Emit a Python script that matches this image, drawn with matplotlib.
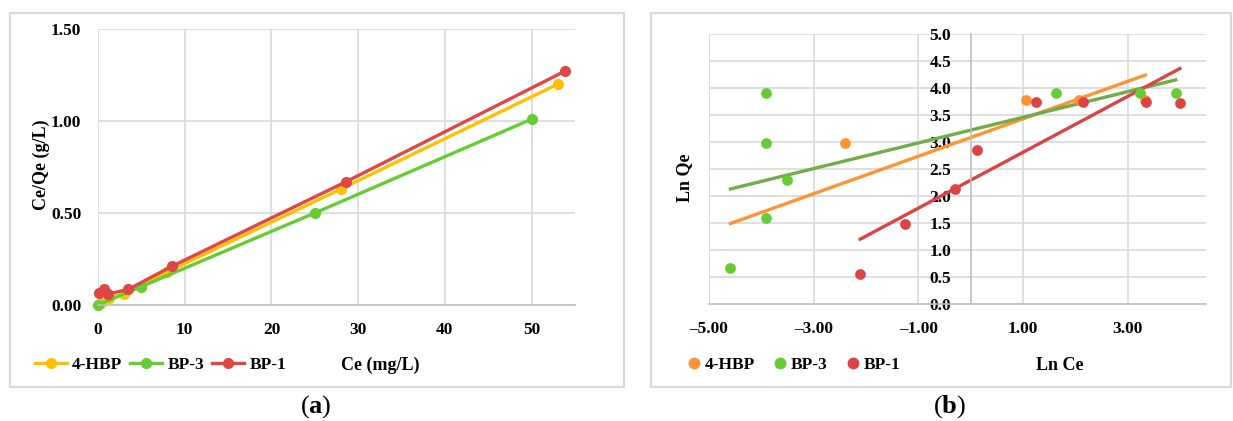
import matplotlib
matplotlib.use("Agg")
import matplotlib.pyplot as plt
from matplotlib.patches import Rectangle
from matplotlib.lines import Line2D

plt.rcParams['font.family'] = ['Liberation Serif', 'DejaVu Serif']
plt.rcParams['mathtext.fontset'] = 'custom'
plt.rcParams['mathtext.rm'] = 'Liberation Serif'
plt.rcParams['mathtext.bf'] = 'Liberation Serif:bold'

# (a) Langmuir: Ce vs Ce/Qe
series_names = ['4-HBP', 'BP-3', 'BP-1']
hbp_ce = [0.3, 1.3, 3.0, 8.0, 28.0, 53.0]
hbp_ratio = [0.01, 0.04, 0.06, 0.18, 0.63, 1.20]
bp3_ce = [0.0, 5.0, 25.0, 50.0]
bp3_ratio = [0.0, 0.10, 0.50, 1.01]
bp1_ce = [0.1, 0.7, 1.2, 3.5, 8.5, 28.6, 53.8]
bp1_ratio = [0.065, 0.085, 0.06, 0.085, 0.21, 0.67, 1.27]

# (b) Freundlich: Ln Ce vs Ln Qe
hbp_lnce = [-2.40, 1.05, 2.07, 3.34]
hbp_lnqe = [2.98, 3.78, 3.78, 3.78]
bp3_lnce = [-4.59, -3.91, -3.91, -3.51, -3.91, 1.64, 3.23, 3.92]
bp3_lnqe = [0.67, 3.90, 2.98, 2.29, 1.60, 3.90, 3.90, 3.90]
bp1_lnce = [-2.11, -1.26, -0.29, 0.12, 1.26, 2.15, 3.36, 4.00]
bp1_lnqe = [0.55, 1.48, 2.13, 2.86, 3.75, 3.75, 3.75, 3.73]
# trendline end points
hbp_trend_x = [-4.59, 3.34]
hbp_trend_y = [1.49, 4.24]
bp3_trend_x = [-4.59, 3.92]
bp3_trend_y = [2.13, 4.15]
bp1_trend_x = [-2.11, 4.00]
bp1_trend_y = [1.20, 4.36]

col_a = ['#FFC000', '#66CC33', '#E04646']
col_b = ['#FF9233', '#66CC33', '#DB4444']
col_trend_green = '#70AD47'
grid_c = '#D9D9D9'
axis_c = '#BFBFBF'

W, H = 1233, 421
fig = plt.figure(figsize=(W / 100, H / 100), dpi=100)

# panel frames
for x0, x1 in [(10, 624), (651, 1231)]:
    fig.patches.append(Rectangle((x0 / W, 1 - 387 / H), (x1 - x0) / W, (387 - 13) / H,
                                 transform=fig.transFigure, fill=False,
                                 edgecolor=grid_c, lw=1.5))

# ---- (a)
ax = fig.add_axes([98 / W, 1 - 305 / H, (575 - 98) / W, (305 - 29) / H])
for xs, ys, c in zip([hbp_ce, bp3_ce, bp1_ce], [hbp_ratio, bp3_ratio, bp1_ratio], col_a):
    ax.plot(xs, ys, color=c, lw=2.4, marker='o', ms=7, clip_on=False)
ax.set_xlim(0, 55)
ax.set_ylim(0, 1.5)
ax.set_xticks([0, 10, 20, 30, 40, 50])
ax.set_yticks([0, 0.5, 1.0, 1.5])
ax.set_yticklabels(['0.00', '0.50', '1.00', '1.50'])
ax.grid(True, color=grid_c, lw=1.2)
ax.set_axisbelow(True)
for s in ['top', 'right', 'left']:
    ax.spines[s].set_visible(False)
ax.spines['bottom'].set_color(axis_c)
ax.spines['bottom'].set_linewidth(1.2)
ax.tick_params(length=0, labelsize=12.5, pad=12)
for lab in ax.get_xticklabels() + ax.get_yticklabels():
    lab.set_fontweight('bold')
fig.text(41 / W, 1 - 165 / H, 'Ce/Qe (g/L)', rotation=90, ha='center', va='center',
         fontsize=13, fontweight='bold')

handles_a = [Line2D([], [], color=c, lw=2.4, marker='o', ms=7) for c in col_a]
fig.legend(handles_a, series_names, loc='center left', bbox_to_anchor=(19 / W, 1 - 365 / H),
           ncol=3, frameon=False, handlelength=1.85, handletextpad=0.3, columnspacing=0.45,
           prop={'weight': 'bold', 'size': 12.5})
fig.text(380 / W, 1 - 365 / H, 'Ce (mg/L)', ha='center', va='center', fontsize=13,
         fontweight='bold')

# ---- (b)
bx = fig.add_axes([709 / W, 1 - 304 / H, (1206 - 709) / W, (304 - 34) / H])
bx.plot(hbp_trend_x, hbp_trend_y, color=col_b[0], lw=2.4)
bx.plot(bp3_trend_x, bp3_trend_y, color=col_trend_green, lw=2.4)
bx.plot(bp1_trend_x, bp1_trend_y, color=col_b[2], lw=2.4)
for xs, ys, c in zip([hbp_lnce, bp3_lnce, bp1_lnce], [hbp_lnqe, bp3_lnqe, bp1_lnqe], col_b):
    bx.scatter(xs, ys, s=60, color=c, zorder=3, clip_on=False, linewidths=0)
bx.set_xlim(-5, 4.5)
bx.set_ylim(0, 5)
bx.set_xticks([-5, -3, -1, 1, 3])
bx.set_xticklabels(['\u20135.00', '\u20133.00', '\u20131.00', '1.00', '3.00'])
bx.set_yticks([0, 0.5, 1, 1.5, 2, 2.5, 3, 3.5, 4, 4.5, 5])
bx.set_yticklabels(['%.1f' % v for v in bx.get_yticks()])
bx.grid(True, color=grid_c, lw=1.2)
bx.axvline(-5, color=grid_c, lw=1.2, zorder=0)
bx.set_axisbelow(True)
for s in ['top', 'right']:
    bx.spines[s].set_visible(False)
bx.spines['left'].set_position(('data', 0))
for s in ['left', 'bottom']:
    bx.spines[s].set_color(axis_c)
    bx.spines[s].set_linewidth(1.2)
bx.tick_params(length=0, labelsize=12.5)
bx.tick_params(axis='x', pad=12)
bx.tick_params(axis='y', pad=14)
for lab in bx.get_xticklabels() + bx.get_yticklabels():
    lab.set_fontweight('bold')
fig.text(685 / W, 1 - 178 / H, 'Ln Qe', rotation=90, ha='center', va='center',
         fontsize=13, fontweight='bold')

handles_b = [Line2D([], [], color=c, lw=0, marker='o', ms=7.5) for c in col_b]
fig.legend(handles_b, series_names, loc='center left', bbox_to_anchor=(670 / W, 1 - 365 / H),
           ncol=3, frameon=False, handlelength=1.0, handletextpad=0.1, columnspacing=0.97,
           prop={'weight': 'bold', 'size': 12.5})
fig.text(1060 / W, 1 - 365 / H, 'Ln Ce', ha='center', va='center', fontsize=13,
         fontweight='bold')

# captions
fig.text(316 / W, 1 - 407 / H, r'($\mathbf{a}$)', ha='center', va='center', fontsize=19)
fig.text(950 / W, 1 - 407 / H, r'($\mathbf{b}$)', ha='center', va='center', fontsize=19)

fig.savefig('out.png', dpi=100)
